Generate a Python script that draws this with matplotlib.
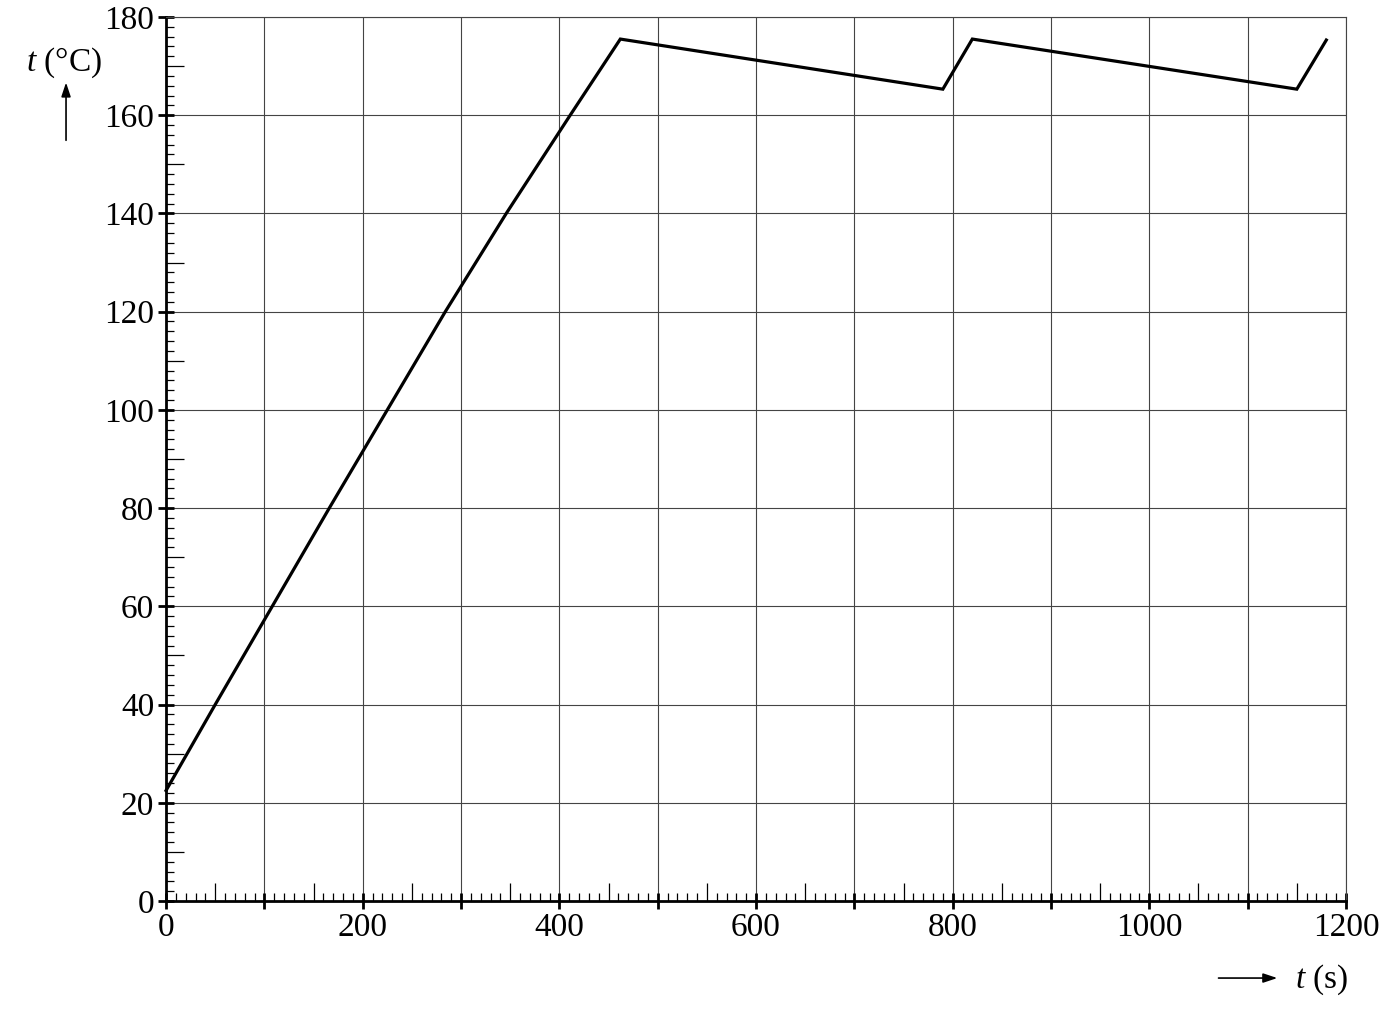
import numpy as np
import matplotlib.pyplot as plt
from matplotlib.ticker import FixedLocator, NullFormatter

# -------------------------
# data
# -------------------------
time_s = [0, 50, 166, 238, 284, 346, 411, 462, 790, 820, 1150, 1180]
temp_c = [22.5, 40, 80, 104.4, 120, 140, 160, 175.5, 165.3, 175.5, 165.3, 175.3]

x_major = list(range(0, 1201, 100))
y_major = list(range(0, 181, 20))

plt.rcParams['font.family'] = ['Liberation Serif', 'DejaVu Serif']
plt.rcParams['mathtext.fontset'] = 'custom'
plt.rcParams['mathtext.rm'] = 'Liberation Serif'
plt.rcParams['mathtext.it'] = 'Liberation Serif:italic'

fig = plt.figure(figsize=(13.99, 10.22), dpi=100)
ax = fig.add_axes([0.1187, 0.1184, 0.9621 - 0.1187, 0.9834 - 0.1184])

# grid every 100 s / 20 C
ax.set_xlim(0, 1200)
ax.set_ylim(0, 180)
for gx in x_major[1:]:
    ax.axvline(gx, color='#444444', lw=0.8, zorder=1)
for gy in y_major[1:]:
    ax.axhline(gy, color='#444444', lw=0.8, zorder=1)

ax.plot(time_s, temp_c, color='black', lw=2.3, solid_joinstyle='miter', zorder=3, clip_on=False)

# spines
for s in ['top', 'right']:
    ax.spines[s].set_linewidth(0.8)
    ax.spines[s].set_color('#444444')
for s in ['left', 'bottom']:
    ax.spines[s].set_linewidth(2.0)

# ticks
ax.xaxis.set_major_locator(FixedLocator(x_major))
ax.set_xticklabels([str(v) if v % 200 == 0 else '' for v in x_major])
ax.yaxis.set_major_locator(FixedLocator(y_major))
ax.xaxis.set_minor_locator(FixedLocator([v for v in range(0, 1201, 10) if v % 50 != 0]))
ax.yaxis.set_minor_locator(FixedLocator([v for v in range(0, 181, 2) if v % 10 != 0]))
ax.tick_params(which='major', direction='inout', length=11, width=2.0, labelsize=24,
               top=False, right=False, pad=3)
ax.tick_params(which='minor', direction='in', length=6, width=0.9, top=False, right=False)

# longer ticks at the 10s / 50s
sec_y = ax.secondary_yaxis('left')
sec_y.yaxis.set_major_locator(FixedLocator(list(range(10, 180, 20))))
sec_y.yaxis.set_major_formatter(NullFormatter())
sec_y.tick_params(direction='in', length=13, width=0.9)
sec_y.spines['left'].set_visible(False)
sec_x = ax.secondary_xaxis('bottom')
sec_x.xaxis.set_major_locator(FixedLocator(list(range(50, 1200, 100))))
sec_x.xaxis.set_major_formatter(NullFormatter())
sec_x.tick_params(direction='in', length=13, width=0.9)
sec_x.spines['bottom'].set_visible(False)

# axis labels with arrows
fig.text(0.0457, 0.939, r'$t$ (°C)', fontsize=24, ha='center', va='center')
ax.annotate('', xy=(0.0472, 0.922), xytext=(0.0472, 0.860), xycoords='figure fraction',
            arrowprops=dict(arrowstyle='-|>,head_length=0.6,head_width=0.2', color='black', lw=1.2, mutation_scale=14))
fig.text(0.926, 0.041, r'$t$ (s)', fontsize=24, ha='left', va='center')
ax.annotate('', xy=(0.915, 0.043), xytext=(0.869, 0.043), xycoords='figure fraction',
            arrowprops=dict(arrowstyle='-|>,head_length=0.6,head_width=0.2', color='black', lw=1.2, mutation_scale=14))

fig.savefig('out.png', dpi=100)
